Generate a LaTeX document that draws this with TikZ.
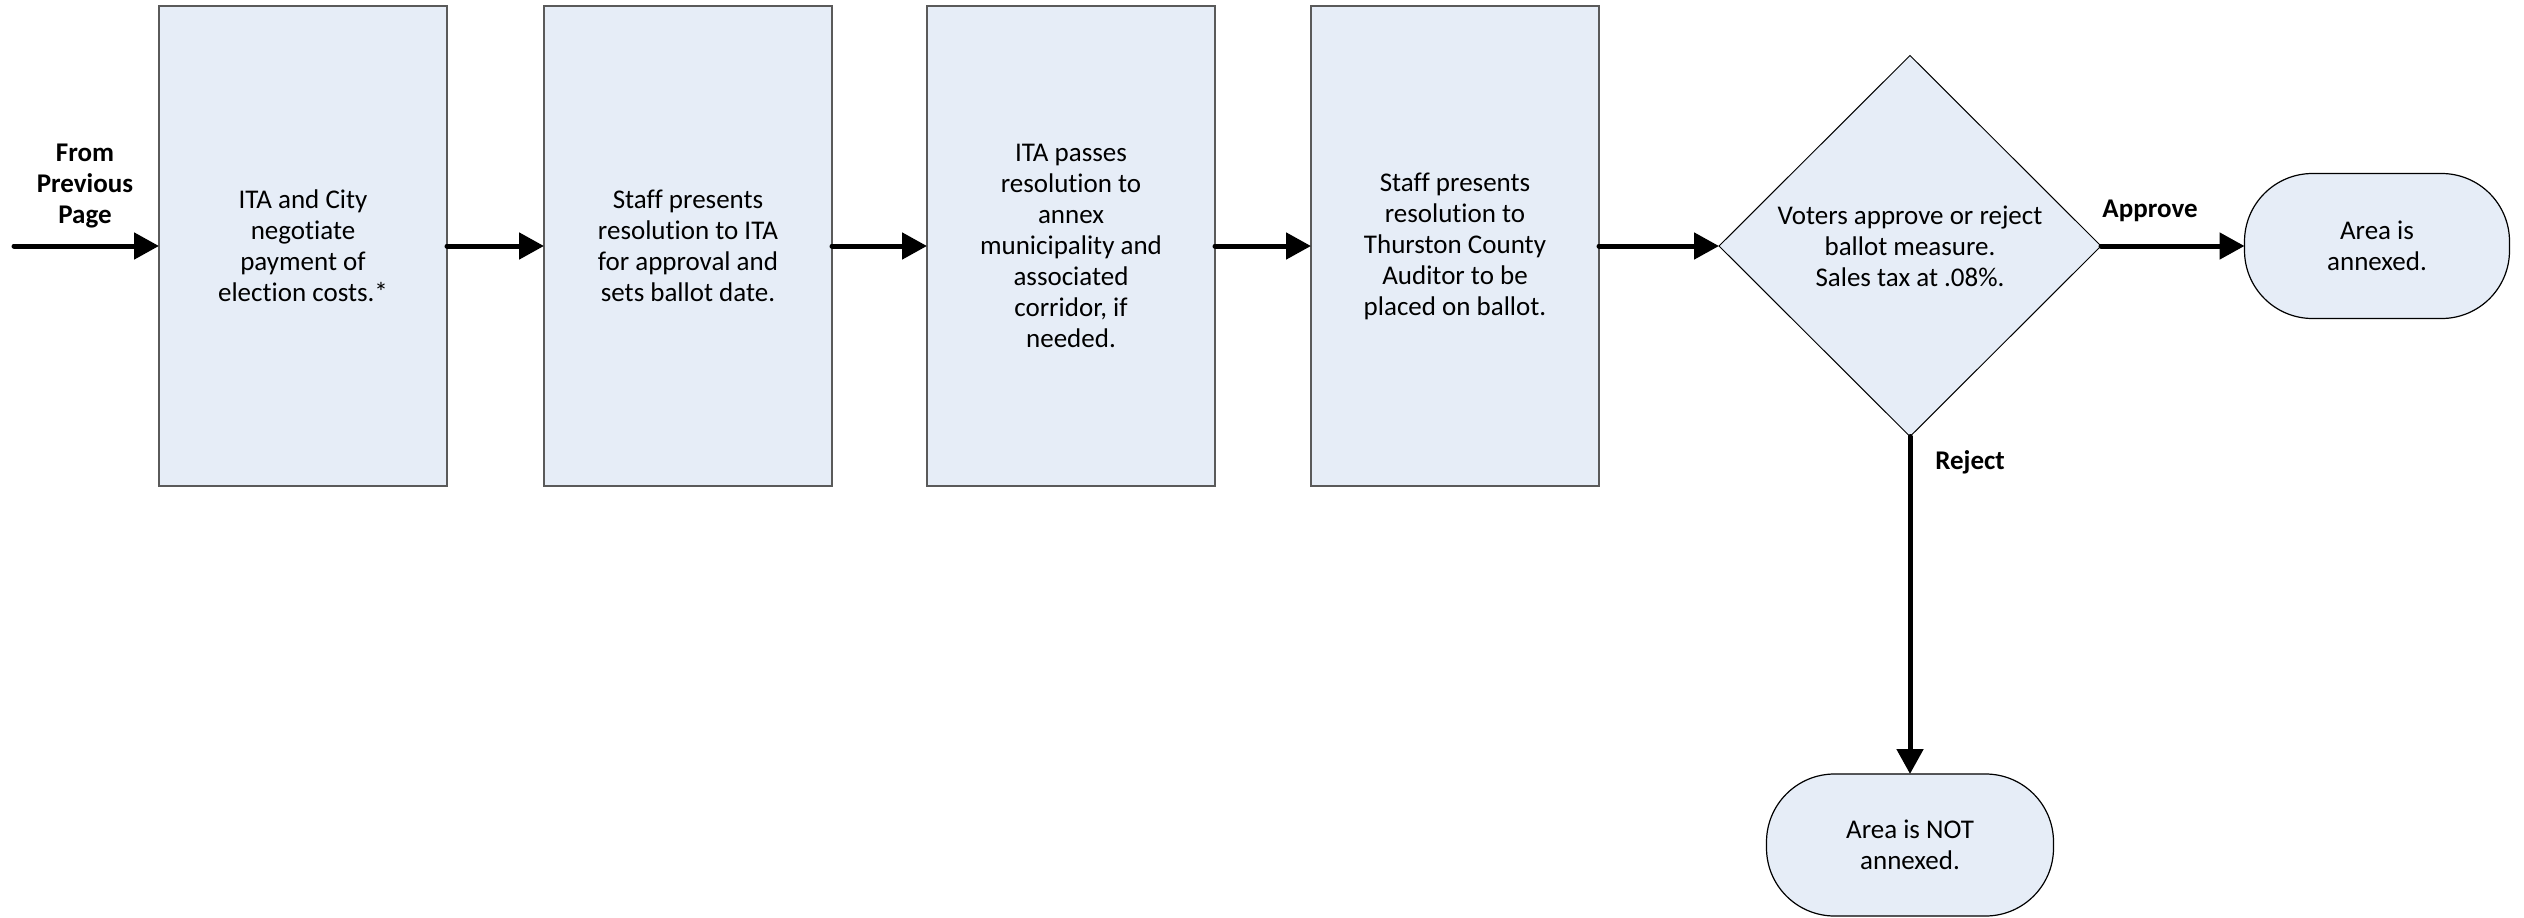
\documentclass[tikz,border=0pt]{standalone}
\usepackage{fontspec}
\setmainfont[Ligatures=NoCommon]{Carlito}
\usetikzlibrary{shapes.geometric,arrows.meta}
\definecolor{boxfill}{RGB}{230,237,247}
\definecolor{boxline}{RGB}{90,90,90}
\tikzset{
  stepbox/.style={draw=boxline, line width=1.3pt, fill=boxfill, minimum width=288pt, minimum height=480pt, inner sep=0pt, outer sep=0pt, align=center, font=\fontsize{27}{31}\selectfont},
  decide/.style={draw=black, line width=1pt, fill=boxfill, shape=diamond, minimum width=382pt, minimum height=381pt, inner sep=0pt, outer sep=0pt, align=center, font=\fontsize{27}{31}\selectfont},
  termbox/.style={draw=black, line width=1.2pt, fill=boxfill, rounded corners=68pt, inner sep=0pt, outer sep=0pt, align=center, font=\fontsize{27}{31}\selectfont},
  flow/.style={line width=5pt, line cap=round, -{Triangle[length=25pt,width=26pt]}},
  lbl/.style={font=\bfseries\fontsize{27}{31}\selectfont, align=center, inner sep=0pt}
}
\begin{document}
\begin{tikzpicture}[x=1pt,y=-1pt]
\useasboundingbox (0,0) rectangle (2524,918);
\node[stepbox] (b1) at (303,246) {ITA and City\\negotiate\\payment of\\election costs.*};
\node[stepbox] (b2) at (688,246) {Staff presents\\resolution to ITA\\for approval and\\sets ballot date.};
\node[stepbox] (b3) at (1071,246) {ITA passes\\resolution to\\annex\\municipality and\\associated\\corridor, if\\needed.};
\node[stepbox] (b4) at (1455,246) {Staff presents\\resolution to\\Thurston County\\Auditor to be\\placed on ballot.};
\node[decide] (d) at (1910,246) {Voters approve or reject\\ballot measure.\\Sales tax at .08\%.};
\node[termbox, minimum width=265pt, minimum height=145pt] (t1) at (2377,246) {Area is\\annexed.};
\node[termbox, minimum width=287pt, minimum height=142pt] (t2) at (1910,845) {Area is NOT\\annexed.};
\coordinate (start) at (14,246);
\node[lbl] (from) at (85,186) {From\\Previous\\Page};
\node[lbl] (appr) at (2150,211) {Approve};
\node[lbl] (rej) at (1970,462) {Reject};
\draw[flow] (start) -- (b1.west);
\draw[flow] (b1.east) -- (b2.west);
\draw[flow] (b2.east) -- (b3.west);
\draw[flow] (b3.east) -- (b4.west);
\draw[flow] (b4.east) -- (d.west);
\draw[flow] (d.east) -- (t1.west);
\draw[flow] (d.south) -- (t2.north);
\end{tikzpicture}
\end{document}
